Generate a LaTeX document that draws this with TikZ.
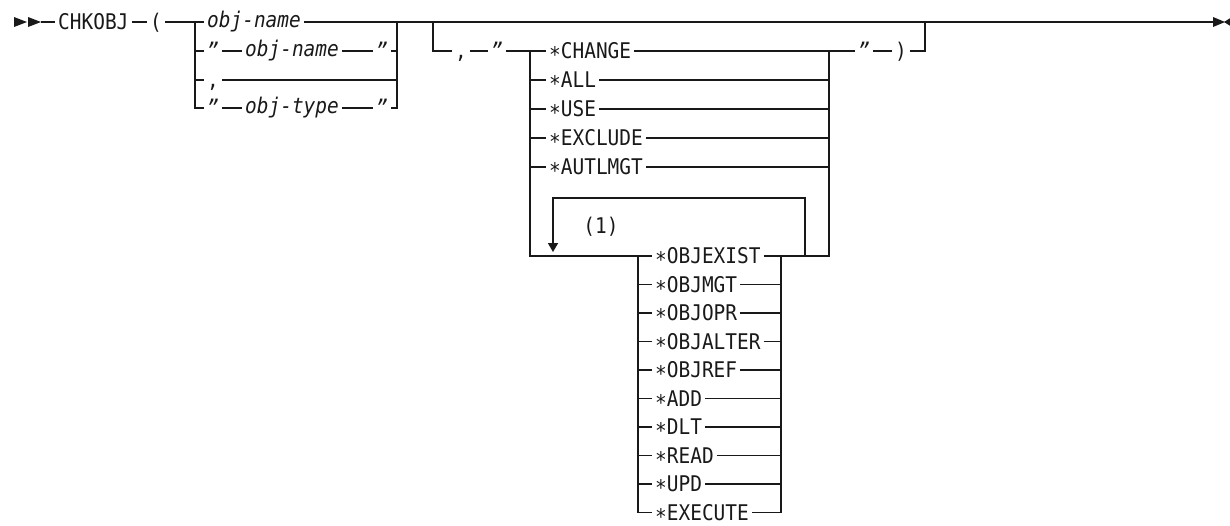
\documentclass[tikz,border=0pt]{standalone}
\usepackage{fontspec}
\setmainfont[FakeStretch=0.9]{DejaVu Sans Mono}
\usetikzlibrary{positioning,arrows.meta}
\newcommand{\stx}{\raisebox{-0.18em}{*}}

\begin{document}
\begin{tikzpicture}[
		x=0.5pt,y=-0.5pt,
		line width=0.8pt,
		color=black!90,
		every node/.style={inner xsep=1.2pt,inner ysep=0pt,font=\fontsize{10.8}{13}\selectfont},
		kw/.style={anchor=west,text height=7.8pt,text depth=0pt},
		var/.style={anchor=west,text height=5.9pt,text depth=0pt,font=\fontsize{10.8}{13}\selectfont\itshape},
		qt/.style={anchor=west,text height=7.8pt,text depth=0pt,font=\fontsize{10.8}{13}\selectfont\itshape},
		tip/.style={-{Triangle[length=4.5pt,width=5pt]}}
		]
		\useasboundingbox (0,0) rectangle (1230,525);
		
		% start and end marks
		\fill (14,17) -- (27,22) -- (14,27) -- cycle;
		\fill (28,17) -- (41,22) -- (28,27) -- cycle;
		\coordinate (start) at (41,22);
		\coordinate (fin) at (1213,22);
		\fill (1213,17) -- (1225,22) -- (1213,27) -- cycle;
		\fill (1232,17) -- (1224,22) -- (1232,27) -- cycle;
		
		\node[kw] (cmd) at (55,22) {CHKOBJ};
		\node[kw] (lpar) at (147,22) {(};
		\draw (start) -- (cmd.west);
		\draw (cmd.east) -- (lpar.west);
		
		% object name or type
		\coordinate (g1l) at (195,22);
		\coordinate (g1r) at (397,22);
		\node[var] (on1) at (204,22) {obj-name};
		\node[qt] (q1) at (204,51) {"};
		\node[var] (on2) at (242,51) {obj-name};
		\node[qt] (q2) at (373,51) {"};
		\node[kw] (comma1) at (204,80) {,};
		\node[qt] (q3) at (204,108) {"};
		\node[var] (ot) at (242,108) {obj-type};
		\node[qt] (q4) at (373,108) {"};
		
		\draw (lpar.east) -- (on1.west);
		\draw (on1.east) -- (g1r);
		\draw (g1l) |- (q1.west);
		\draw (q1.east) -- (on2.west);
		\draw (on2.east) -- (q2.west);
		\draw (q2.east) -| (g1r);
		\draw (g1l) |- (comma1.west);
		\draw (comma1.east) -| (g1r);
		\draw (g1l) |- (q3.west);
		\draw (q3.east) -- (ot.west);
		\draw (ot.east) -- (q4.west);
		\draw (q4.east) -| (g1r);
		\draw (g1r) -- (fin);
		
		% optional authority list
		\coordinate (g2in) at (433,22);
		\coordinate (g2out) at (925,22);
		\coordinate (g3l) at (530,51);
		\coordinate (g3r) at (829,51);
		\node[kw] (comma2) at (452,51) {,};
		\node[qt] (q5) at (488,51) {"};
		\node[qt] (q6) at (855,51) {"};
		\node[kw] (rpar) at (892,51) {)};
		\draw (g2in) |- (comma2.west);
		\draw (comma2.east) -- (q5.west);
		\draw (q5.east) -- (g3l);
		\draw (g3r) -- (q6.west);
		\draw (q6.east) -- (rpar.west);
		\draw (rpar.east) -| (g2out);
		
		\foreach \name/\txt/\y in {chg/CHANGE/51, all/ALL/80, use/USE/109,
			excl/EXCLUDE/138, autl/AUTLMGT/167} {
			\node[kw] (\name) at (546,\y) {\stx\txt};
			\draw (g3l) |- (\name.west);
			\draw (\name.east) -| (g3r);
		}
		
		% repeatable group
		\coordinate (g4l) at (638,256);
		\coordinate (g4r) at (781,256);
		\coordinate (lpt) at (553,198);
		\coordinate (lptip) at (553,252);
		\coordinate (rpt) at (805,198);
		\coordinate (rpb) at (805,256);
		\draw (g3l) |- (g4l);
		\draw (g4r) -| (g3r);
		\draw[tip] (rpb) -- (rpt) -- (lpt) -- (lptip);
		\node[kw,anchor=center] (note) at (601,226) {(1)};
		
		\foreach \name/\txt [count=\k from 0] in {ox/OBJEXIST, om/OBJMGT, oo/OBJOPR,
			oa/OBJALTER, orf/OBJREF, add/ADD, dlt/DLT, rd/READ, upd/UPD, exe/EXECUTE} {
			\node[kw] (\name) at (652,256+28.5*\k) {\stx\txt};
			\draw (g4l) |- (\name.west);
			\draw (\name.east) -| (g4r);
		}
		
	\end{tikzpicture}
\end{document}
